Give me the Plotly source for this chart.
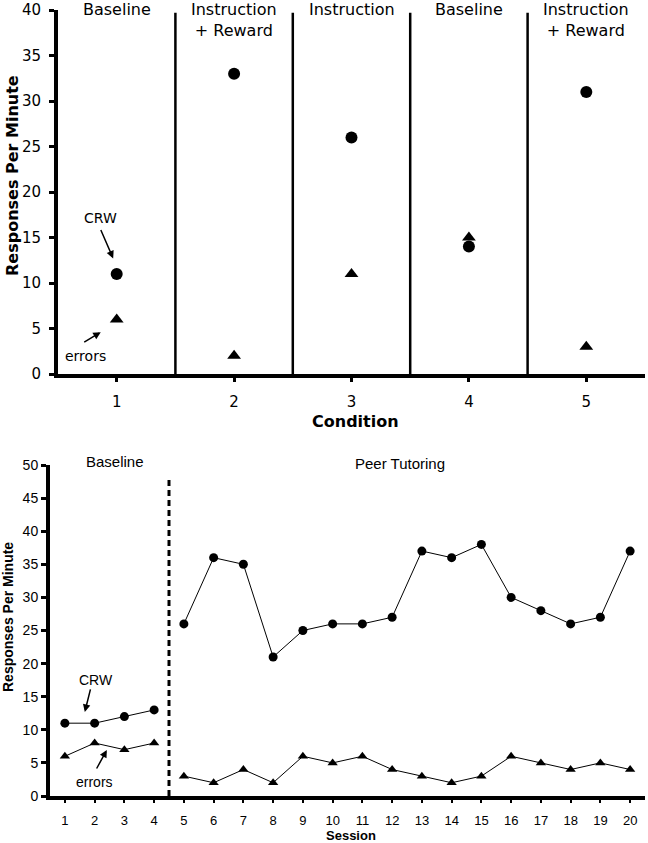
import plotly.graph_objects as go

# ---------------- data ----------------
conditions = [1, 2, 3, 4, 5]
cond_crw = [11, 33, 26, 14, 31]
cond_errors = [6, 2, 11, 15, 3]
cond_labels = ["Baseline", "Instruction<br>+ Reward", "Instruction", "Baseline", "Instruction<br>+ Reward"]
cond_boundaries = [1.5, 2.5, 3.5, 4.5]

sessions = list(range(1, 21))
sess_crw = [11, 11, 12, 13, 26, 36, 35, 21, 25, 26, 26, 27, 37, 36, 38, 30, 28, 26, 27, 37]
sess_errors = [6, 8, 7, 8, 3, 2, 4, 2, 6, 5, 6, 4, 3, 2, 3, 6, 5, 4, 5, 4]
baseline_n = 4  # sessions in baseline phase
phase_labels = ["Baseline", "Peer Tutoring"]
phase_boundary = 4.5

W, H = 648, 843
F1 = "DejaVu Sans"
F2 = "Liberation Sans, Arial"

fig = go.Figure()

# ---------- top chart ----------
fig.add_trace(go.Scatter(x=conditions, y=cond_crw, mode="markers",
                         marker=dict(symbol="circle", size=12, color="black"),
                         xaxis="x", yaxis="y", showlegend=False))
fig.add_trace(go.Scatter(x=conditions, y=cond_errors, mode="markers",
                         marker=dict(symbol="triangle-up", size=12, color="black"),
                         xaxis="x", yaxis="y", showlegend=False))

# ---------- bottom chart ----------
phases = [(0, baseline_n), (baseline_n, len(sessions))]
for a, b in phases:
    fig.add_trace(go.Scatter(x=sessions[a:b], y=sess_crw[a:b], mode="lines+markers",
                             line=dict(color="black", width=1),
                             marker=dict(symbol="circle", size=9, color="black"),
                             xaxis="x2", yaxis="y2", showlegend=False))
    fig.add_trace(go.Scatter(x=sessions[a:b], y=sess_errors[a:b], mode="lines+markers",
                             line=dict(color="black", width=1),
                             marker=dict(symbol="triangle-up", size=9, color="black"),
                             xaxis="x2", yaxis="y2", showlegend=False))

shapes = []
for xb in cond_boundaries:
    shapes.append(dict(type="line", xref="x", yref="y", x0=xb, x1=xb, y0=0, y1=39.7,
                       line=dict(color="black", width=2.5)))
shapes.append(dict(type="line", xref="x2", yref="y2", x0=phase_boundary, x1=phase_boundary,
                   y0=0, y1=48.2, line=dict(color="black", width=3, dash="6px,4px")))


def txt(x, y, text, family, size, xref="paper", yref="paper", angle=0, yanchor="middle"):
    return dict(x=x, y=y, xref=xref, yref=yref, text=text, showarrow=False, textangle=angle,
                xanchor="center", yanchor=yanchor,
                font=dict(family=family, size=size, color="black"))


def arrow(x, y, ax, ay, xref, yref):
    return dict(x=x, y=y, xref=xref, yref=yref, text="", showarrow=True, ax=ax, ay=ay,
                arrowhead=2, arrowsize=1, arrowwidth=1.5, arrowcolor="black")


annotations = []
# condition labels
for c, lab in zip(conditions, cond_labels):
    annotations.append(txt(c, 1.0 + 2 / H, lab, F1, 16, xref="x", yanchor="top"))
# phase labels bottom
annotations.append(txt(115 / W, (H - 461) / H, phase_labels[0], F2, 15))
annotations.append(txt(400 / W, (H - 463) / H, phase_labels[1], F2, 15))

# axis titles
annotations.append(txt(12 / W, (H - 176) / H, "<b>Responses Per Minute</b>", F1, 16, angle=-90))
annotations.append(txt(355 / W, (H - 422) / H, "<b>Condition</b>", F1, 16))
annotations.append(txt(8 / W, (H - 617) / H, "<b>Responses Per Minute</b>", F2, 14, angle=-90))
annotations.append(txt(351 / W, (H - 835) / H, "<b>Session</b>", F2, 13))

# top callouts
annotations.append(txt(0.864, 17.1, "CRW", F1, 14, xref="x", yref="y"))
annotations.append(arrow(0.97, 12.7, -13, -30, "x", "y"))
annotations.append(txt(0.736, 1.98, "errors", F1, 14, xref="x", yref="y"))
annotations.append(arrow(0.864, 4.6, -18, 11, "x", "y"))
# bottom callouts
annotations.append(txt(2.04, 17.5, "CRW", F2, 14, xref="x2", yref="y2"))
annotations.append(arrow(1.67, 12.7, 6, -24, "x2", "y2"))
annotations.append(txt(2.01, 2.1, "errors", F2, 14, xref="x2", yref="y2"))
annotations.append(arrow(2.41, 6.95, -11, 20, "x2", "y2"))

fig.update_layout(
    width=W, height=H, margin=dict(l=0, r=0, t=0, b=0, autoexpand=False),
    paper_bgcolor="white", plot_bgcolor="white",
    shapes=shapes, annotations=annotations,
    xaxis=dict(domain=[58 / W, 645 / W], range=[0.5, 5.5], tickvals=conditions,
               showline=True, linecolor="black", linewidth=4, showgrid=False, zeroline=False,
               ticks="outside", ticklen=4, tickwidth=3, tickcolor="black",
               ticklabelstandoff=7, tickfont=dict(family=F1, size=15, color="black"),
               anchor="y", automargin=False),
    yaxis=dict(domain=[(H - 374) / H, (H - 10) / H], range=[0, 40], dtick=5,
               showline=True, linecolor="black", linewidth=4, showgrid=False, zeroline=False,
               ticks="outside", ticklen=5, tickwidth=3, tickcolor="black",
               ticklabelstandoff=5,
               tickfont=dict(family=F1, size=15, color="black"), anchor="x", automargin=False),
    xaxis2=dict(domain=[50 / W, 645 / W], range=[0.5, 20.5], tickvals=sessions,
                showline=True, linecolor="black", linewidth=4, showgrid=False, zeroline=False,
                ticks="outside", ticklen=3, tickwidth=2, tickcolor="black",
                ticklabelstandoff=6, tickfont=dict(family=F2, size=13, color="black"),
                anchor="y2", automargin=False),
    yaxis2=dict(domain=[(H - 796) / H, (H - 465) / H], range=[0, 50], dtick=5,
                showline=True, linecolor="black", linewidth=4, showgrid=False, zeroline=False,
                ticks="outside", ticklen=5, tickwidth=3, tickcolor="black",
                tickfont=dict(family=F2, size=14, color="black"), anchor="x2", automargin=False),
)

fig.write_html("out.html", config={"displayModeBar": False},
               post_script="document.body.style.margin='0';document.body.style.overflow='hidden';")
